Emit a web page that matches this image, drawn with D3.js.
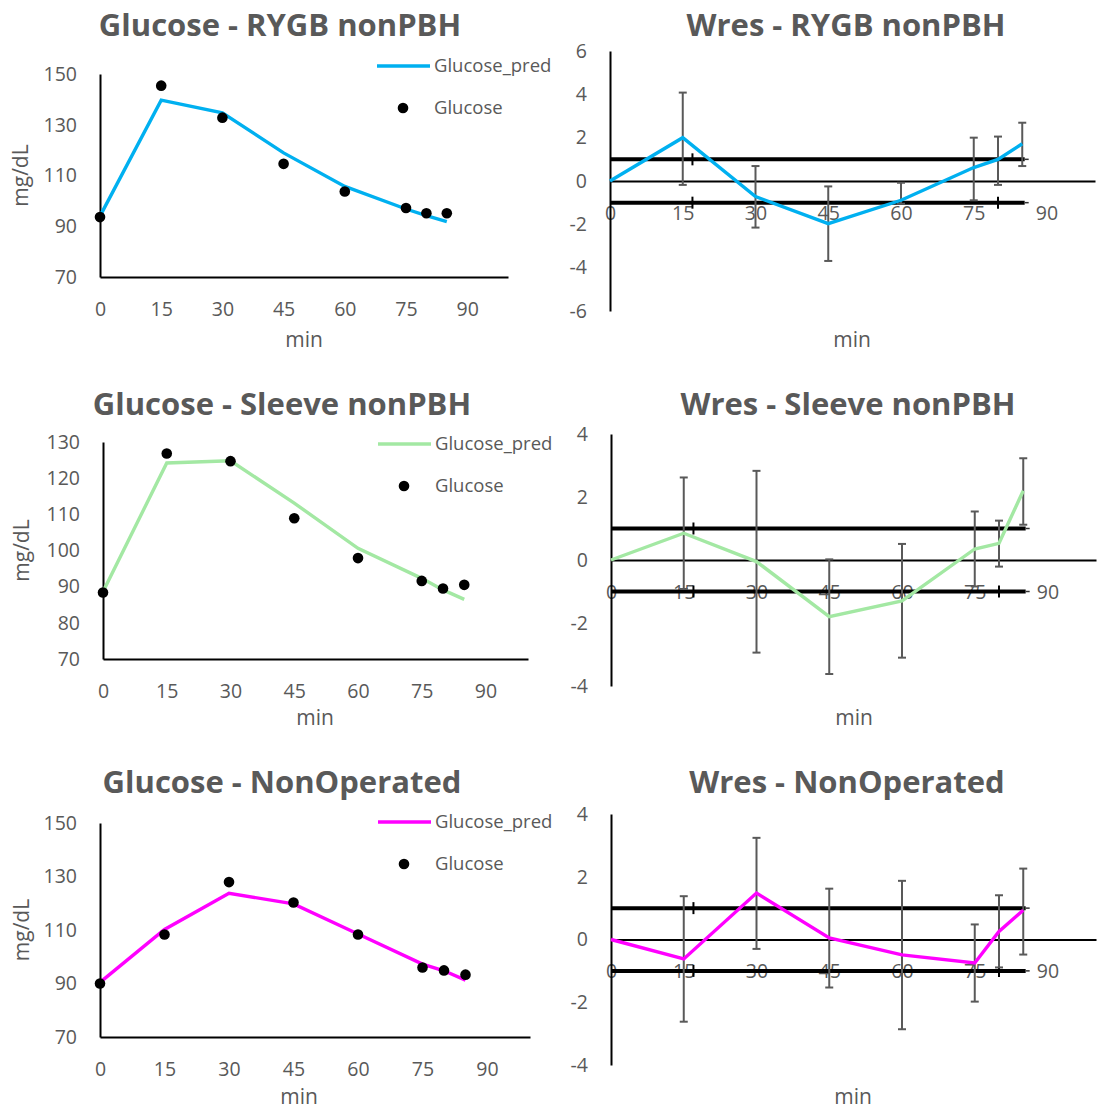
<!DOCTYPE html>
<html>
<head>
<meta charset="utf-8">
<script src="https://cdn.jsdelivr.net/npm/d3@7"></script>
<style>
  body { margin: 0; background: #fff; }
  text { font-family: "Open Sans", sans-serif; fill: #595959; }
  .title { font-size: 31px; font-weight: 700; }
  .tick text { font-size: 19.5px; }
  .axis-title { font-size: 21px; }
  .legend { font-size: 18.5px; }
</style>
</head>
<body>
<script>
// sampling times (min) and axis ticks
const minutes = [0, 15, 30, 45, 60, 75, 80, 85];
const xTicks = [0, 15, 30, 45, 60, 75, 90];

// RYGB nonPBH
const rygbGlucose = [93.6, 145.4, 132.8, 114.6, 103.7, 97.2, 95.1, 95.1];
const rygbPred = [94.0, 139.7, 134.7, 118.9, 105.7, 96.8, 94.2, 91.8];
const rygbWres = [0, 2.0, -0.72, -1.97, -0.89, 0.62, 1.0, 1.72];
const rygbWresHigh = [null, 4.08, 0.69, -0.25, -0.08, 2.0, 2.05, 2.69];
const rygbWresLow = [null, -0.18, -2.15, -3.69, -1.05, -0.89, -0.18, 0.69];

// Sleeve nonPBH
const sleeveGlucose = [88.4, 126.8, 124.7, 108.9, 97.9, 91.6, 89.5, 90.5];
const sleevePred = [88.6, 124.2, 124.8, 113.1, 100.6, 92.3, 89.1, 86.5];
const sleeveWres = [0, 0.85, -0.05, -1.80, -1.30, 0.35, 0.53, 2.20];
const sleeveWresHigh = [null, 2.62, 2.83, 0.02, 0.51, 1.54, 1.25, 3.23];
const sleeveWresLow = [null, -0.92, -2.94, -3.62, -3.10, -0.84, -0.21, 1.12];

// NonOperated
const nonopGlucose = [90.0, 108.3, 127.9, 120.3, 108.3, 96.0, 94.9, 93.3];
const nonopPred = [90.4, 110.2, 123.75, 119.75, 108.5, 97.25, 94.75, 91.25];
const nonopWres = [0, -0.62, 1.48, 0.05, -0.49, -0.75, 0.26, 0.93];
const nonopWresHigh = [null, 1.38, 3.24, 1.62, 1.87, 0.48, 1.41, 2.26];
const nonopWresLow = [null, -2.62, -0.30, -1.53, -2.86, -1.98, -0.89, -0.48];

// +/-1 reference lines of the residual plots
const bandLevels = [1, -1];
const bandRange = [0, 85.5];
const bandMarks = [17, 80];

const svg = d3.select("body").append("svg")
    .attr("width", 1097)
    .attr("height", 1113);

const plain = d => String(d); // hyphen minus, like the original

function glucosePanel(p, obs, pred, color, yTicks) {
    var x = d3.scaleLinear().domain([0, 100]).range([p.left, p.right]);
    var y = d3.scaleLinear().domain([yTicks[0], yTicks[yTicks.length - 1]]).range([p.bottom, p.top]);
    var g = svg.append("g");

    g.append("text").attr("class", "title")
        .attr("x", p.titleX).attr("y", p.titleY)
        .attr("text-anchor", "middle")
        .text(p.title);

    var xa = g.append("g")
        .attr("transform", "translate(0," + p.bottom + ")")
        .call(d3.axisBottom(x).tickValues(xTicks).tickFormat(plain).tickSize(0).tickSizeOuter(0).tickPadding(25));
    xa.select(".domain").attr("stroke", "#000").attr("stroke-width", 2);

    var ya = g.append("g")
        .attr("transform", "translate(" + p.left + ",0)")
        .call(d3.axisLeft(y).tickValues(yTicks).tickFormat(plain).tickSize(0).tickSizeOuter(0).tickPadding(23));
    ya.select(".domain").attr("stroke", "#000").attr("stroke-width", 2);

    g.append("text").attr("class", "axis-title")
        .attr("x", p.minX).attr("y", p.minY)
        .attr("text-anchor", "middle").attr("dy", "0.35em")
        .text("min");

    g.append("text").attr("class", "axis-title")
        .attr("transform", "translate(" + p.unitX + "," + ((p.top + p.bottom) / 2) + ") rotate(-90)")
        .attr("text-anchor", "middle").attr("dy", "0.35em")
        .text("mg/dL");

    var line = d3.line().x((d, i) => x(minutes[i])).y(d => y(d));
    g.append("path").datum(pred)
        .attr("d", line)
        .attr("fill", "none")
        .attr("stroke", color)
        .attr("stroke-width", 3.4);

    g.selectAll(".dot").data(obs).enter().append("circle")
        .attr("cx", (d, i) => x(minutes[i]))
        .attr("cy", d => y(d))
        .attr("r", 5.3)
        .attr("fill", "#000");

    // legend
    g.append("line")
        .attr("x1", p.legX).attr("x2", p.legX + 53)
        .attr("y1", p.legY).attr("y2", p.legY)
        .attr("stroke", color).attr("stroke-width", 3.4);
    g.append("text").attr("class", "legend")
        .attr("x", p.legX + 57).attr("y", p.legY).attr("dy", "0.35em")
        .text("Glucose_pred");
    g.append("circle")
        .attr("cx", p.legX + 26).attr("cy", p.legY + 42).attr("r", 5.3)
        .attr("fill", "#000");
    g.append("text").attr("class", "legend")
        .attr("x", p.legX + 57).attr("y", p.legY + 42).attr("dy", "0.35em")
        .text("Glucose");
}

function wresPanel(p, wres, high, low, color, yTicks) {
    var x = d3.scaleLinear().domain([0, 100]).range([p.left, p.right]);
    var y = d3.scaleLinear().domain([yTicks[0], yTicks[yTicks.length - 1]]).range([p.bottom, p.top]);
    var g = svg.append("g");

    g.append("text").attr("class", "title")
        .attr("x", p.titleX).attr("y", p.titleY)
        .attr("text-anchor", "middle")
        .text(p.title);

    var xa = g.append("g")
        .attr("transform", "translate(0," + y(0) + ")")
        .call(d3.axisBottom(x).tickValues(xTicks).tickFormat(plain).tickSize(0).tickSizeOuter(0).tickPadding(25));
    xa.select(".domain").attr("stroke", "#000").attr("stroke-width", 1.8);

    var ya = g.append("g")
        .attr("transform", "translate(" + p.left + ",0)")
        .call(d3.axisLeft(y).tickValues(yTicks).tickFormat(plain).tickSize(0).tickSizeOuter(0).tickPadding(23));
    ya.select(".domain").attr("stroke", "#000").attr("stroke-width", 2);

    g.append("text").attr("class", "axis-title")
        .attr("x", p.minX).attr("y", p.minY)
        .attr("text-anchor", "middle").attr("dy", "0.35em")
        .text("min");

    // +/-1 lines with their small marks
    bandLevels.forEach(function (lv) {
        g.append("line")
            .attr("x1", x(bandRange[0])).attr("x2", x(bandRange[1]))
            .attr("y1", y(lv)).attr("y2", y(lv))
            .attr("stroke", "#000").attr("stroke-width", 4);
        g.append("line")
            .attr("x1", x(bandRange[1])).attr("x2", x(bandRange[1]) + 4)
            .attr("y1", y(lv)).attr("y2", y(lv))
            .attr("stroke", "#333").attr("stroke-width", 1.5);
        bandMarks.forEach(function (m) {
            g.append("line")
                .attr("x1", x(m)).attr("x2", x(m))
                .attr("y1", y(lv) - 6).attr("y2", y(lv) + 6)
                .attr("stroke", "#000").attr("stroke-width", 2);
        });
    });

    // error bars
    var bars = minutes.map((t, i) => ({ t: t, hi: high[i], lo: low[i] })).filter(d => d.hi != null);
    var eb = g.selectAll(".err").data(bars).enter().append("g")
        .attr("stroke", "#595959").attr("stroke-width", 2);
    eb.append("line")
        .attr("x1", d => x(d.t)).attr("x2", d => x(d.t))
        .attr("y1", d => y(d.hi)).attr("y2", d => y(d.lo));
    eb.append("line")
        .attr("x1", d => x(d.t) - 4).attr("x2", d => x(d.t) + 4)
        .attr("y1", d => y(d.hi)).attr("y2", d => y(d.hi));
    eb.append("line")
        .attr("x1", d => x(d.t) - 4).attr("x2", d => x(d.t) + 4)
        .attr("y1", d => y(d.lo)).attr("y2", d => y(d.lo));

    var line = d3.line().x((d, i) => x(minutes[i])).y(d => y(d));
    g.append("path").datum(wres)
        .attr("d", line)
        .attr("fill", "none")
        .attr("stroke", color)
        .attr("stroke-width", 3.4);
}

glucosePanel({ left: 100, right: 508, top: 74, bottom: 277, title: "Glucose - RYGB nonPBH",
    titleX: 280, titleY: 36, minX: 304, minY: 340, unitX: 21, legX: 377, legY: 66 },
    rygbGlucose, rygbPred, "#00B0F0", [70, 90, 110, 130, 150]);
wresPanel({ left: 610, right: 1095, top: 51, bottom: 311, title: "Wres - RYGB nonPBH",
    titleX: 846, titleY: 36, minX: 852, minY: 340 },
    rygbWres, rygbWresHigh, rygbWresLow, "#00B0F0", [-6, -4, -2, 0, 2, 4, 6]);

glucosePanel({ left: 103, right: 528, top: 442, bottom: 659, title: "Glucose - Sleeve nonPBH",
    titleX: 282, titleY: 415, minX: 315, minY: 718, unitX: 22, legX: 378, legY: 444 },
    sleeveGlucose, sleevePred, "#A3E8A3", [70, 80, 90, 100, 110, 120, 130]);
wresPanel({ left: 611, right: 1096, top: 434, bottom: 686, title: "Wres - Sleeve nonPBH",
    titleX: 848, titleY: 415, minX: 854, minY: 718 },
    sleeveWres, sleeveWresHigh, sleeveWresLow, "#A3E8A3", [-4, -2, 0, 2, 4]);

glucosePanel({ left: 100, right: 530, top: 823, bottom: 1037, title: "Glucose - NonOperated",
    titleX: 282, titleY: 793, minX: 299, minY: 1097, unitX: 22, legX: 378, legY: 822 },
    nonopGlucose, nonopPred, "#FF00FF", [70, 90, 110, 130, 150]);
wresPanel({ left: 611, right: 1096, top: 814, bottom: 1065, title: "Wres - NonOperated",
    titleX: 847, titleY: 793, minX: 853, minY: 1097 },
    nonopWres, nonopWresHigh, nonopWresLow, "#FF00FF", [-4, -2, 0, 2, 4]);
</script>
</body>
</html>
